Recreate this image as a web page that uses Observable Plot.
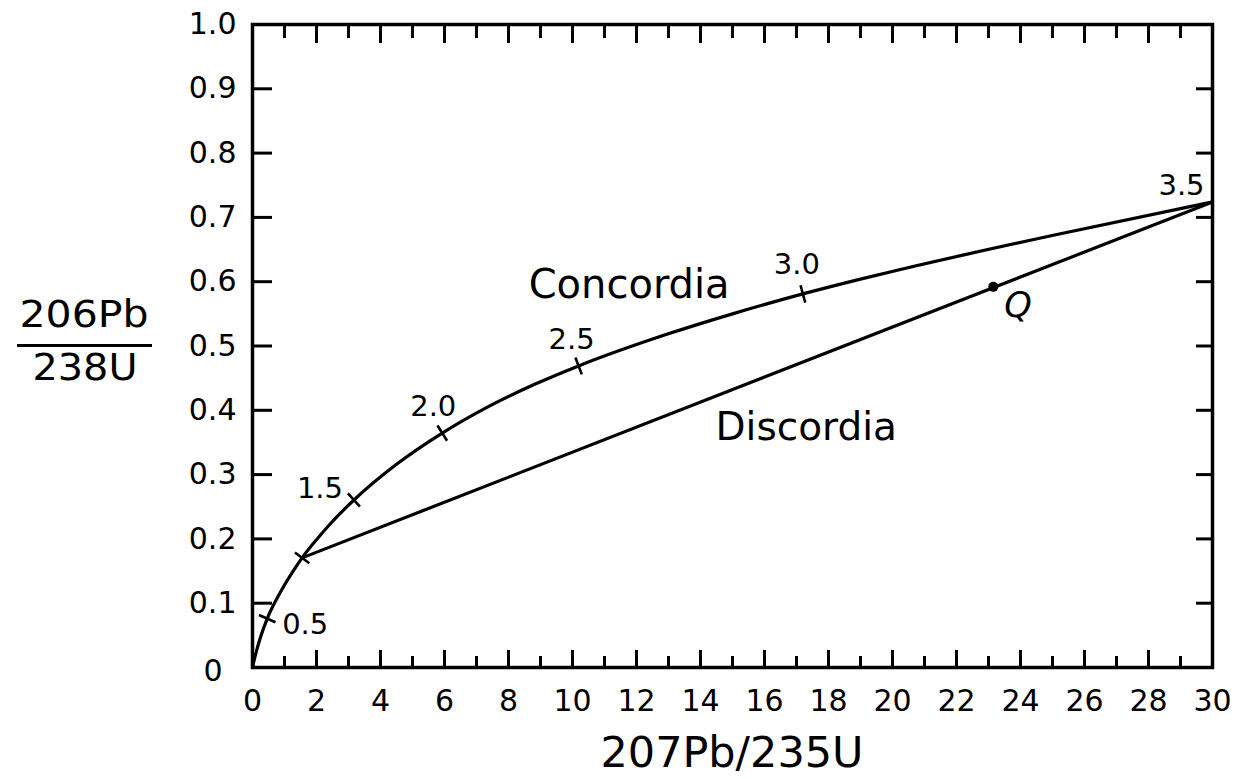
<!DOCTYPE html>
<html>
<head>
<meta charset="utf-8">
<script src="https://cdn.jsdelivr.net/npm/d3@7"></script>
<script src="https://cdn.jsdelivr.net/npm/@observablehq/plot@0.6"></script>
<style>
  html, body { margin: 0; padding: 0; background: #fff; }
  svg { display: block; }
</style>
</head>
<body>
<div id="chart"></div>
<script>
// ---- Data ----
const concordiaX = [0, 0.12, 0.25, 0.46, 0.875, 1.29, 1.55, 2.02, 2.44, 3.17, 4.5, 5.93, 7.4, 8.8, 10.19, 12.97, 15.0, 17.2, 19.0, 20.25, 25.1, 30];
const concordiaY = [0, 0.025, 0.047, 0.076, 0.1175, 0.1515, 0.1705, 0.200, 0.224, 0.2605, 0.316, 0.3646, 0.4065, 0.440, 0.469, 0.5185, 0.550, 0.581, 0.604, 0.619, 0.673, 0.724];

const markerAges = ["0.5", "1.0", "1.5", "2.0", "2.5", "3.0"];
const markerX = [0.46, 1.55, 3.17, 5.93, 10.19, 17.2];
const markerY = [0.076, 0.1705, 0.2605, 0.3646, 0.469, 0.581];

const ageLabels = ["0.5", "1.5", "2.0", "2.5", "3.0", "3.5"];
const ageLabelX = [0.46, 3.17, 5.93, 10.19, 17.2, 30];
const ageLabelY = [0.076, 0.2605, 0.3646, 0.469, 0.581, 0.724];

const discordiaX = [1.55, 30];
const discordiaY = [0.1705, 0.724];

const pointName = ["Q"];
const pointX = [23.15];
const pointY = [0.592];

const xTickValues = [0, 2, 4, 6, 8, 10, 12, 14, 16, 18, 20, 22, 24, 26, 28, 30];
const xMinorValues = [1, 3, 5, 7, 9, 11, 13, 15, 17, 19, 21, 23, 25, 27, 29];
const yTickValues = [0, 0.1, 0.2, 0.3, 0.4, 0.5, 0.6, 0.7, 0.8, 0.9, 1.0];
const yTickLabels = ["0", "0.1", "0.2", "0.3", "0.4", "0.5", "0.6", "0.7", "0.8", "0.9", "1.0"];

const xLabelText = "207Pb/235U";
const yLabelNum = "206Pb";
const yLabelDen = "238U";

// ---- Layout ----
const W = 1249, H = 779;
const mL = 252, mR = 37, mT = 24, mB = 112;
const kx = (W - mL - mR) / 30;   // px per x unit
const ky = (H - mT - mB) / 1;    // px per y unit

const concordia = concordiaX.map((x, i) => ({x, y: concordiaY[i]}));
const discordia = discordiaX.map((x, i) => ({x, y: discordiaY[i]}));

// perpendicular tick marks across the concordia at each age marker
const half = 9;
const markerTicks = markerX.map((mx, i) => {
  const my = markerY[i];
  let j = 0, best = Infinity;
  concordiaX.forEach((cx, k) => { const d = Math.abs(cx - mx); if (d < best) { best = d; j = k; } });
  const p = Math.max(0, j - 1), n = Math.min(concordiaX.length - 1, j + 1);
  const tx = (concordiaX[n] - concordiaX[p]) * kx;
  const ty = -(concordiaY[n] - concordiaY[p]) * ky;
  const len = Math.hypot(tx, ty);
  const nx = -ty / len, ny = tx / len;
  return {
    age: markerAges[i],
    x1: mx + nx * half / kx, y1: my - ny * half / ky,
    x2: mx - nx * half / kx, y2: my + ny * half / ky
  };
});

const labelOffsets = {"0.5": [38, 15], "1.5": [-34, -2], "2.0": [-9, -17], "2.5": [-7, -17], "3.0": [-6, -20], "3.5": [-31, -7]};
const ageLabelMarks = ageLabels.map((t, i) => Plot.text([{t, x: ageLabelX[i], y: ageLabelY[i]}], {
  x: "x", y: "y", text: "t", dx: labelOffsets[t][0], dy: labelOffsets[t][1],
  textAnchor: "middle", lineAnchor: "bottom", fontSize: 29, fill: "black"
}));

const tickStroke = 3;
const yFmt = d => yTickLabels[yTickValues.indexOf(d)];

const chart = Plot.plot({
  width: W, height: H,
  marginLeft: mL, marginRight: mR, marginTop: mT, marginBottom: mB,
  x: {domain: [0, 30], label: null},
  y: {domain: [0, 1], label: null},
  style: {fontFamily: "'DejaVu Sans', sans-serif", background: "white", color: "black"},
  marks: [
    // bottom ticks (inward)
    Plot.axisX({anchor: "bottom", ticks: xTickValues, tickSize: -17, text: null, label: null, strokeWidth: tickStroke}),
    Plot.axisX({anchor: "bottom", ticks: xMinorValues, tickSize: -11, text: null, label: null, strokeWidth: tickStroke}),
    Plot.axisX({anchor: "bottom", ticks: xTickValues, tickSize: 0, tickPadding: 22, label: null, fontSize: 30, tickFormat: d => String(d)}),
    // top ticks (inward)
    Plot.axisX({anchor: "top", ticks: xTickValues, tickSize: -18, text: null, label: null, strokeWidth: tickStroke}),
    Plot.axisX({anchor: "top", ticks: xMinorValues, tickSize: -13, text: null, label: null, strokeWidth: tickStroke}),
    // left ticks and labels
    Plot.axisY({anchor: "left", ticks: yTickValues, tickSize: -20, text: null, label: null, strokeWidth: tickStroke}),
    Plot.axisY({anchor: "left", ticks: yTickValues.slice(1), tickSize: 0, tickPadding: 16, label: null, fontSize: 30, tickFormat: yFmt}),
    Plot.axisY({anchor: "left", ticks: yTickValues.slice(0, 1), tickSize: 0, tickPadding: 30, label: null, fontSize: 30, dy: 4, tickFormat: yFmt}),
    // right ticks
    Plot.axisY({anchor: "right", ticks: yTickValues, tickSize: -17, text: null, label: null, strokeWidth: tickStroke}),
    Plot.frame({stroke: "black", strokeWidth: 3.5}),
    // curves
    Plot.line(concordia, {x: "x", y: "y", curve: "monotone-x", stroke: "black", strokeWidth: 3.2}),
    Plot.line(discordia, {x: "x", y: "y", stroke: "black", strokeWidth: 3.2}),
    Plot.link(markerTicks, {x1: "x1", y1: "y1", x2: "x2", y2: "y2", stroke: "black", strokeWidth: 2.6}),
    Plot.dot(pointX.map((x, i) => ({x, y: pointY[i], name: pointName[i]})), {x: "x", y: "y", r: 5, fill: "black", stroke: null}),
    Plot.text(pointX.map((x, i) => ({x, y: pointY[i], name: pointName[i]})), {x: "x", y: "y", text: "name", dx: 11, dy: 30,
      textAnchor: "start", lineAnchor: "bottom", fontSize: 35, fontStyle: "italic", fill: "black"}),
    ...ageLabelMarks,
    Plot.text(["Concordia"], {x: 8.63, y: 0.575, text: d => d, textAnchor: "start", lineAnchor: "bottom", fontSize: 40, fill: "black"}),
    Plot.text(["Discordia"], {x: 14.47, y: 0.354, text: d => d, textAnchor: "start", lineAnchor: "bottom", fontSize: 39, fill: "black"})
  ]
});

// axis titles
const svg = d3.select(chart);
const xs = chart.scale("x"), ys = chart.scale("y");
svg.append("text")
  .attr("x", xs.apply(15)).attr("y", H - mB + 100)
  .attr("text-anchor", "middle")
  .attr("font-family", "'DejaVu Sans', sans-serif")
  .attr("font-size", 42)
  .attr("textLength", 263).attr("lengthAdjust", "spacingAndGlyphs")
  .attr("fill", "black")
  .text(xLabelText);

const fy = ys.apply(0.5);
const fcx = 84;
svg.append("text")
  .attr("x", fcx).attr("y", fy - 19)
  .attr("text-anchor", "middle")
  .attr("font-family", "'DejaVu Sans', sans-serif")
  .attr("font-size", 37)
  .attr("textLength", 129).attr("lengthAdjust", "spacingAndGlyphs")
  .attr("fill", "black")
  .text(yLabelNum);
svg.append("line")
  .attr("x1", 17).attr("x2", 152).attr("y1", fy).attr("y2", fy)
  .attr("stroke", "black").attr("stroke-width", 3);
svg.append("text")
  .attr("x", fcx + 1).attr("y", fy + 34)
  .attr("text-anchor", "middle")
  .attr("font-family", "'DejaVu Sans', sans-serif")
  .attr("font-size", 37)
  .attr("textLength", 105).attr("lengthAdjust", "spacingAndGlyphs")
  .attr("fill", "black")
  .text(yLabelDen);

document.getElementById("chart").appendChild(chart);
</script>
</body>
</html>
